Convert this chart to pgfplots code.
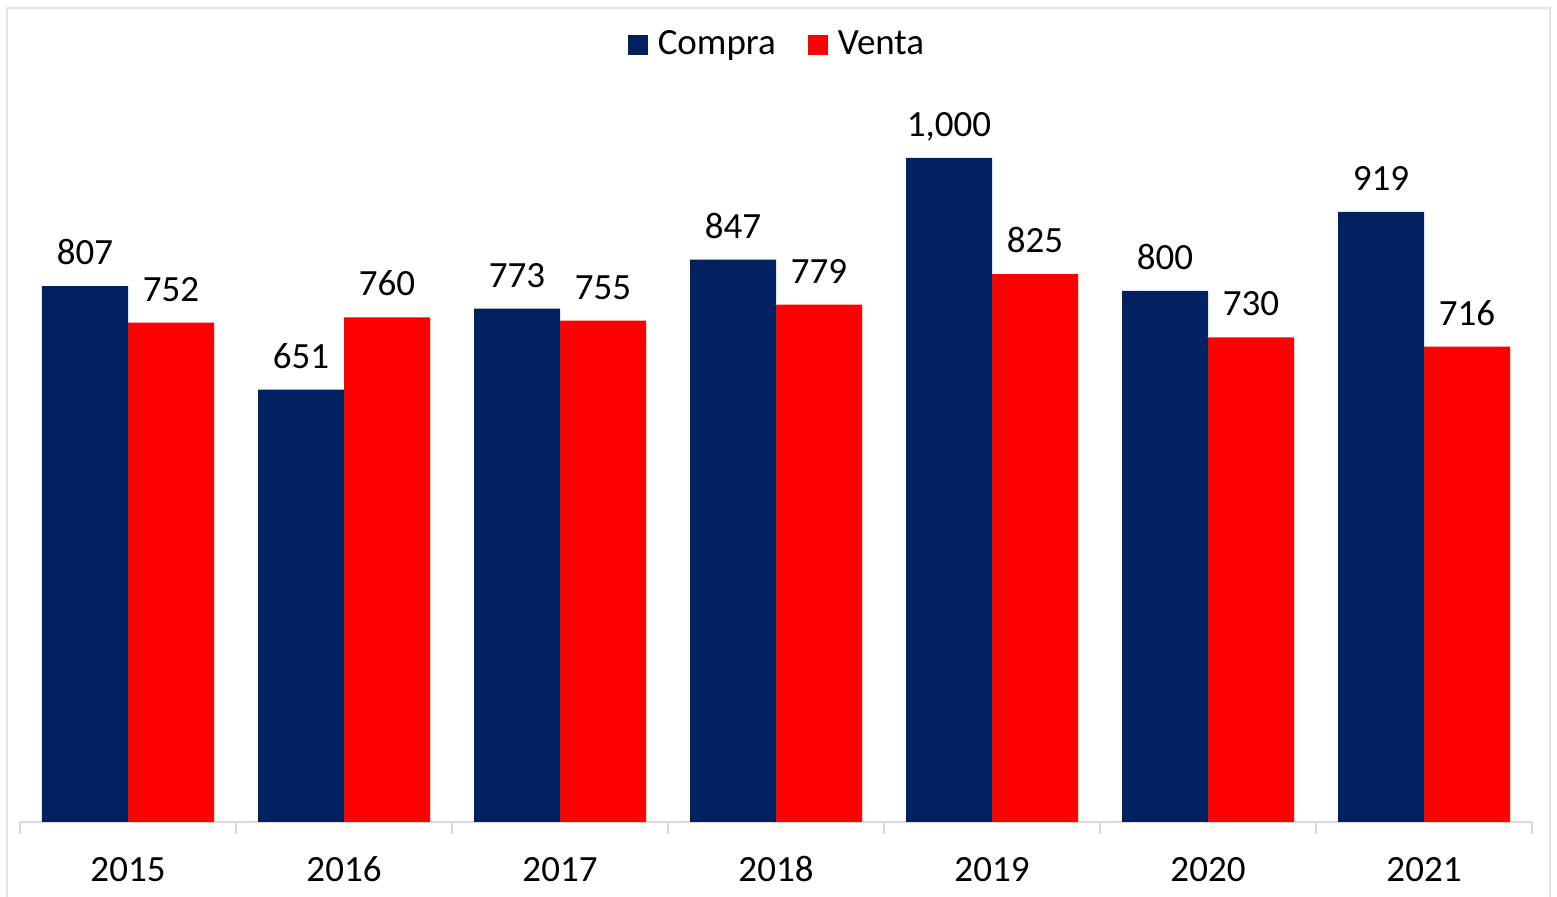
\documentclass[border=0pt]{standalone}
\usepackage{fontspec}
\setmainfont{Carlito}
\usepackage{pgfplots}
\pgfplotsset{compat=1.18}
\definecolor{navy}{HTML}{002060}
\definecolor{vred}{HTML}{FF0000}
\definecolor{axgray}{HTML}{D9D9D9}
\definecolor{bordergray}{HTML}{E3E3E3}
\begin{document}
\fontsize{18.5}{22}\selectfont
\begin{tikzpicture}
\useasboundingbox (-10pt,-37.5pt) rectangle (768.5pt,411pt);
\draw[bordergray, line width=1.2pt] (-6.5pt,-60pt) rectangle (765pt,407pt);
\begin{axis}[
  at={(0pt,0pt)}, anchor=south west,
  scale only axis, width=756pt, height=376pt,
  xmin=-0.5, xmax=6.5, ymin=0, ymax=1132.5,
  ybar=0pt, bar width=43pt,
  axis x line*=bottom, axis y line=none,
  x axis line style={axgray, line width=1pt, -},
  xtick={0,...,6},
  xticklabels={2015,2016,2017,2018,2019,2020,2021},
  major tick length=0pt,
  minor xtick={-0.5,0.5,...,6.5},
  minor tick length=6pt,
  xtick align=outside,
  minor tick style={axgray, line width=1pt},
  xticklabel style={anchor=base, yshift=-30pt, font=\fontsize{18.5}{22}\selectfont},
  /pgf/number format/.cd, 1000 sep={,}, assume math mode=true,
  /pgfplots/.cd,
  nodes near coords,
  every node near coord/.append style={font=\fontsize{18.5}{22}\selectfont, black, inner sep=0pt, text depth=0pt, yshift=10.5pt},
  legend style={at={(0.5013,1.033)}, anchor=center, draw=none, legend columns=2,
    font=\fontsize{18.5}{22}\selectfont,
    /tikz/every odd column/.append style={column sep=3pt},
    /tikz/every even column/.append style={column sep=14pt}},
  legend image code/.code={\fill[#1] (0pt,-5pt) rectangle (10pt,5pt);},
  legend cell align=left,
]
\addplot[fill=navy, draw=none] coordinates {(0,807) (1,651) (2,773) (3,847) (4,1000) (5,800) (6,919)};
\addplot[fill=vred, draw=none] coordinates {(0,752) (1,760) (2,755) (3,779) (4,825) (5,730) (6,716)};
\legend{Compra, Venta}
\end{axis}
\end{tikzpicture}
\end{document}
